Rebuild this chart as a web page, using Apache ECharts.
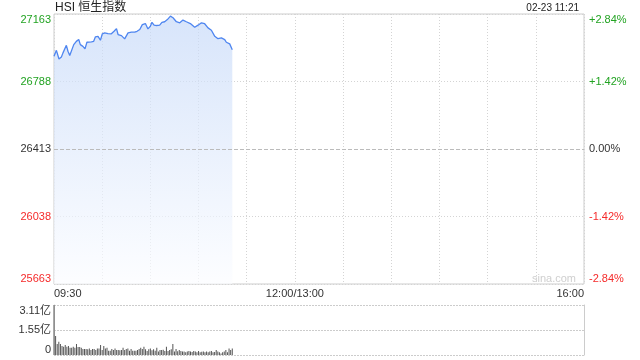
<!DOCTYPE html>
<html>
<head>
<meta charset="utf-8">
<script src="https://cdn.jsdelivr.net/npm/echarts@6/dist/echarts.min.js"></script>
<style>html,body{margin:0;padding:0;background:#fff}#c{width:640px;height:360px}</style>
</head>
<body>
<div id="c"></div>
<script>
// ---- data ----
const titleText = 'HSI 恒生指数';
const dateText = '02-23 11:21';
const prevClose = 26413;
const priceRange = 750;          // half-range of the price axis (points)
const priceStep = 375;
const totalMinutes = 330;        // 09:30-12:00 + 13:00-16:00
const xTickLabels = {0: '09:30', 150: '12:00/13:00', 330: '16:00'};
const volMax = 3.11;             // 亿
const volTickLabels = ['0', '1.55亿', '3.11亿'];

const priceMinutes = [0,1.5,3.1,4.6,5.6,6.7,7.7,8.7,9.8,10.8,12.3,13.9,15.4,16.4,18,19.3,20.5,23.3,24.7,25.8,27.4,28.9,30.1,31.6,33.6,35.7,37.4,38.9,39.9,42,44,46.1,48.2,50.2,51.7,53.4,55,56.9,58.5,60,61,62.3,63.8,65.8,67.2,68.9,70.6,72.5,74.1,76.2,78.3,80.3,82.4,84.9,87.6,89.7,91.8,93.8,95.9,98,100.1,102.1,104.2,106.3,107.3,109.4,111];
const priceValues = [26928,26961,26913,26924,26947,26941,26989,26956,26932,26937,26993,27011,27021,26993,26983,26969,27006,27008,27011,27036,27039,27017,27053,27058,27054,27053,27067,27082,27049,27043,27025,27058,27062,27062,27067,27077,27104,27110,27080,27095,27117,27101,27099,27101,27117,27120,27132,27151,27142,27120,27114,27129,27120,27110,27089,27101,27114,27109,27086,27073,27039,27026,27030,27021,27006,26997,26965];

// volume per minute from 09:30 (亿)
const volumeValues = [
3.11,1.18,0.68,0.83,0.68,0.56,0.52,0.62,0.52,0.56,
0.45,0.45,0.52,0.45,0.68,0.5,0.5,0.45,0.37,0.37,
0.37,0.35,0.41,0.31,0.37,0.37,0.31,0.41,0.41,0.62,
0.31,0.56,0.41,0.45,0.27,0.27,0.37,0.31,0.41,0.31,
0.31,0.29,0.31,0.45,0.31,0.37,0.41,0.27,0.37,0.27,
0.27,0.27,0.31,0.37,0.45,
0.37,0.52,0.35,0.25,0.35,0.41,0.29,0.35,0.27,0.45,
0.21,0.31,0.31,0.33,0.25,0.52,0.25,0.31,0.35,0.68,
0.21,0.37,0.23,0.31,0.25,0.21,0.21,0.17,0.21,0.25,
0.21,0.19,0.25,0.21,0.17,0.25,0.17,0.2,0.21,0.17,
0.21,0.17,0.21,0.25,0.17,0.19,0.31,0.21,0.17,0.1,
0.17,0.21,0.31,0.17,0.41,0.31,0.41
];

// ---- chart ----
const FONT = '"Liberation Sans", Arial, "Noto Sans CJK SC", sans-serif';
const GREEN = '#22a322', RED = '#f52a2a', DARK = '#333';
const signColor = v => v > 0 ? GREEN : (v < 0 ? RED : DARK);

const lineData = priceMinutes.map((m, i) => [m, priceValues[i] - prevClose]);
const volData = volumeValues.map((v, i) => [i, v]);

const chart = echarts.init(document.getElementById('c'), null, {renderer: 'canvas'});
chart.setOption({
  animation: false,
  textStyle: {fontFamily: FONT},
  grid: [
    {left: 54, top: 14, width: 530, height: 270, show: true, borderColor: '#cccccc', borderWidth: 1, backgroundColor: 'transparent'},
    {left: 54, top: 305, width: 530, height: 50}
  ],
  xAxis: [
    {
      gridIndex: 0, type: 'value', min: 0, max: totalMinutes, interval: 30,
      axisLine: {show: false}, axisTick: {show: false},
      axisLabel: {
        show: true, margin: 4, fontSize: 11, color: DARK, fontFamily: FONT,
        alignMinLabel: 'left', alignMaxLabel: 'right', showMaxLabel: true, showMinLabel: true,
        formatter: v => xTickLabels[v] || ''
      },
      splitLine: {show: true, lineStyle: {color: '#d4d4d4', type: [1, 2], width: 1}}
    },
    {
      gridIndex: 1, type: 'value', min: 0, max: totalMinutes, interval: 30,
      axisLine: {show: false}, axisTick: {show: false}, axisLabel: {show: false}, splitLine: {show: false}
    }
  ],
  yAxis: [
    {
      gridIndex: 0, type: 'value', min: -priceRange, max: priceRange, interval: priceStep, position: 'left',
      axisLine: {show: false}, axisTick: {show: false},
      axisLabel: {
        margin: 3, fontSize: 11, fontFamily: FONT,
        verticalAlignMaxLabel: 'top', verticalAlignMinLabel: 'bottom',
        formatter: v => String(prevClose + v),
        color: v => signColor(Number(v))
      },
      splitLine: {show: true, lineStyle: {color: ['#d4d4d4', '#d4d4d4', 'rgba(0,0,0,0)', '#d4d4d4', '#d4d4d4'], type: [1, 2], width: 1}}
    },
    {
      gridIndex: 0, type: 'value', min: -priceRange, max: priceRange, interval: priceStep, position: 'right',
      axisLine: {show: false}, axisTick: {show: false}, splitLine: {show: false},
      axisLabel: {
        margin: 5, fontSize: 11, fontFamily: FONT,
        verticalAlignMaxLabel: 'top', verticalAlignMinLabel: 'bottom',
        formatter: v => {
          const p = (v / prevClose * 100).toFixed(2);
          return v > 0 ? '+' + p + '%' : (v === 0 ? '0.00%' : p + '%');
        },
        color: v => signColor(Number(v))
      }
    },
    {
      gridIndex: 1, type: 'value', min: 0, max: volMax, interval: volMax / 2, position: 'left',
      axisLine: {show: true, lineStyle: {color: '#cccccc'}}, axisTick: {show: false},
      axisLabel: {
        margin: 3, fontSize: 11, color: DARK, fontFamily: FONT,
        verticalAlignMaxLabel: 'top', verticalAlignMinLabel: 'bottom',
        formatter: v => volTickLabels[Math.round(v / (volMax / 2))]
      },
      splitLine: {show: true, lineStyle: {color: '#cccccc', type: [2, 1], width: 1}}
    },
    {
      gridIndex: 1, type: 'value', min: 0, max: volMax, interval: volMax / 2, position: 'right',
      axisLine: {show: true, lineStyle: {color: '#cccccc'}}, axisTick: {show: false},
      axisLabel: {show: false}, splitLine: {show: false}
    }
  ],
  series: [
    {
      type: 'line', xAxisIndex: 0, yAxisIndex: 0, data: lineData,
      showSymbol: false, symbol: 'none', smooth: false,
      lineStyle: {color: '#4f86f0', width: 1.3},
      areaStyle: {
        origin: 'start',
        color: new echarts.graphic.LinearGradient(0, 0, 0, 1, [
          {offset: 0, color: '#c6d9f8'},
          {offset: 1, color: '#fbfcff'}
        ])
      },
      markLine: {
        silent: true, symbol: 'none', label: {show: false},
        lineStyle: {color: '#bbbbbb', type: [4, 2], width: 1},
        data: [{yAxis: 0}]
      },
      z: 3
    },
    {
      type: 'bar', xAxisIndex: 1, yAxisIndex: 2, data: volData,
      barWidth: 1, itemStyle: {color: '#555555'}, z: 3
    }
  ],
  graphic: [
    {type: 'text', left: 55, top: 2, style: {text: titleText, font: '12px ' + FONT, fill: '#222'}},
    {type: 'text', right: 61, top: 3, style: {text: dateText, font: '10px ' + FONT, fill: '#222'}},
    {type: 'text', left: 532, top: 273, style: {text: 'sina.com', font: '11px ' + FONT, fill: '#cfcfcf'}}
  ]
});
</script>
</body>
</html>
